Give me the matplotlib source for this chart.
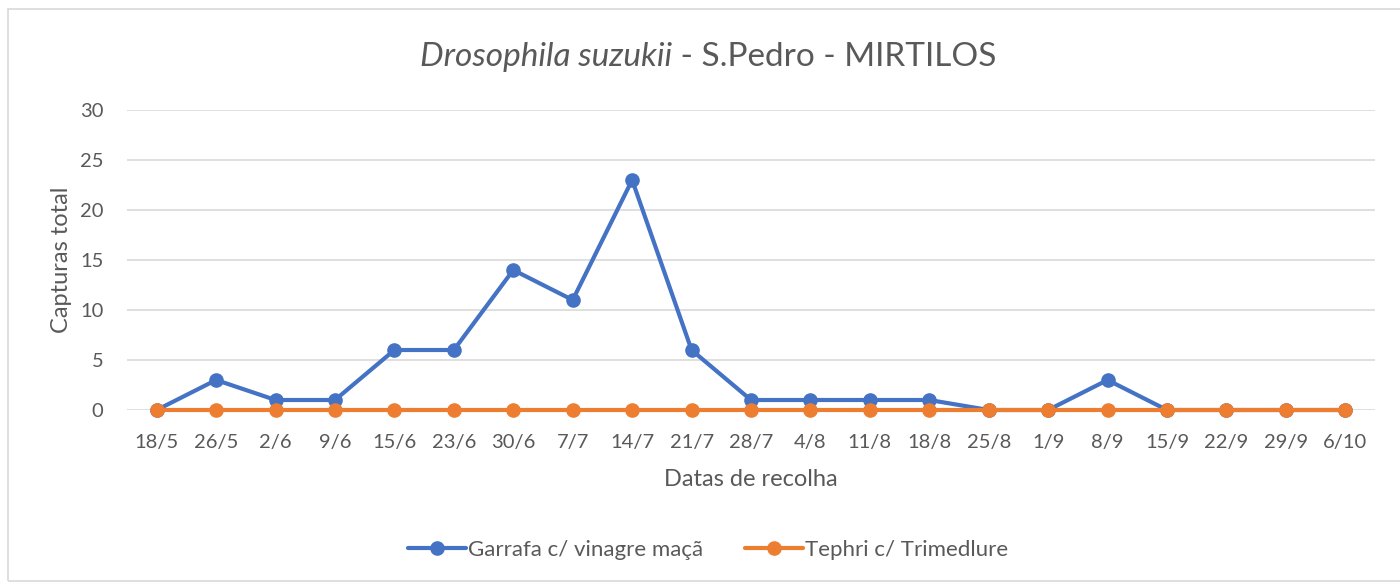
import matplotlib
matplotlib.use("Agg")
import matplotlib.pyplot as plt
from matplotlib.patches import Rectangle
from matplotlib.offsetbox import TextArea, HPacker, AnchoredOffsetbox

dates = ["18/5", "26/5", "2/6", "9/6", "15/6", "23/6", "30/6", "7/7", "14/7", "21/7",
         "28/7", "4/8", "11/8", "18/8", "25/8", "1/9", "8/9", "15/9", "22/9", "29/9", "6/10"]
garrafa = [0, 3, 1, 1, 6, 6, 14, 11, 23, 6, 1, 1, 1, 1, 0, 0, 3, 0, 0, 0, 0]
tephri = [0] * 21

blue = "#4472C4"
orange = "#ED7D31"
txt = "#595959"
grid = "#D9D9D9"

plt.rcParams['font.family'] = ['Lato', 'DejaVu Sans']

fig = plt.figure(figsize=(14, 5.82), dpi=100)
fig.patches.append(Rectangle((8/1400, 0.001), 1.2, 1 - 10/582, transform=fig.transFigure,
                             fill=False, edgecolor=grid, linewidth=1.2))
ax = fig.add_axes([127/1400, 1 - 410/582, (1375-127)/1400, 300/582])

x = list(range(len(dates)))
ax.plot(x, garrafa, color=blue, lw=3, marker='o', ms=9.5, label="Garrafa c/ vinagre maçã", zorder=3,
        solid_capstyle='round', clip_on=False)
ax.plot(x, tephri, color=orange, lw=3, marker='o', ms=9.5, label="Tephri c/ Trimedlure", zorder=4,
        solid_capstyle='round', clip_on=False)

ax.set_xlim(-0.5, len(dates) - 0.5)
ax.set_ylim(0, 30)
ax.set_yticks(range(0, 31, 5))
ax.set_xticks(x)
ax.set_xticklabels(dates)
ax.yaxis.grid(True, color=grid, lw=1.2)
ax.set_axisbelow(True)
for s in ax.spines.values():
    s.set_visible(False)
ax.tick_params(length=0, labelsize=14.5, colors=txt)
ax.tick_params(axis='x', pad=17)
ax.tick_params(axis='y', pad=17)

ax.set_xlabel("Datas de recolha", fontsize=17, color=txt, labelpad=13)
ax.set_ylabel("Capturas total", fontsize=17, color=txt, labelpad=6)

ta1 = TextArea("Drosophila suzukii", textprops=dict(fontsize=24, color=txt, style='italic'))
ta2 = TextArea(" - S.Pedro - MIRTILOS", textprops=dict(fontsize=24, color=txt))
pack = HPacker(children=[ta1, ta2], align="baseline", pad=0, sep=0)
ab = AnchoredOffsetbox(loc='center', child=pack, bbox_to_anchor=(708/1400, 1 - 57/582),
                       bbox_transform=fig.transFigure, frameon=False, pad=0, borderpad=0)
fig.add_artist(ab)

leg = fig.legend(loc='center', bbox_to_anchor=(708/1400, 1 - 550/582), ncol=2, frameon=False,
                 fontsize=16, handlelength=2.6, columnspacing=1.9, handletextpad=0.1)
for t in leg.get_texts():
    t.set_color(txt)

fig.savefig("out.png", dpi=100)
